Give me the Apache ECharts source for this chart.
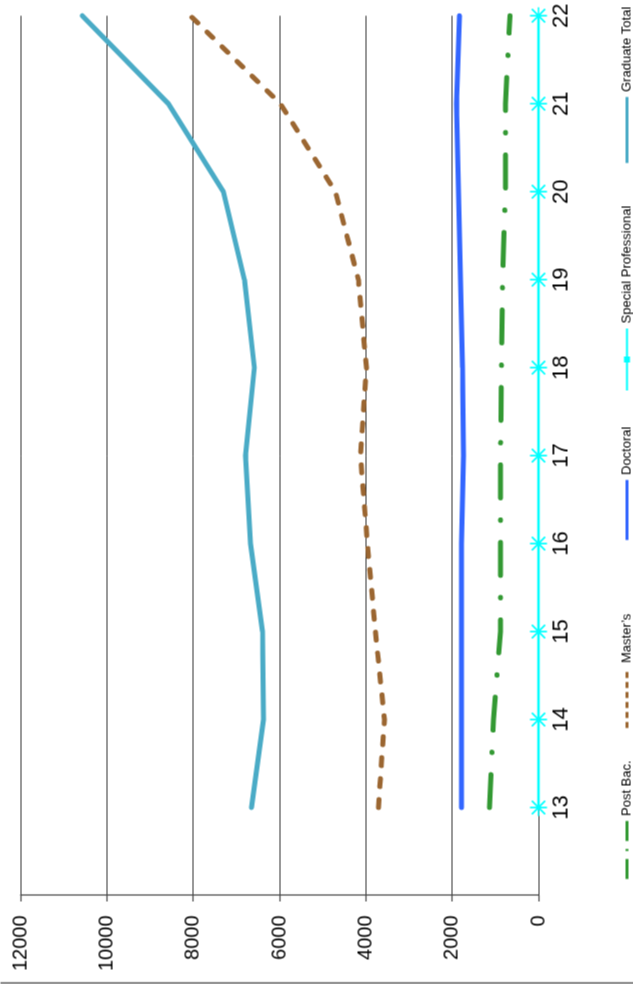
<!DOCTYPE html>
<html>
<head>
<meta charset="utf-8">
<script src="https://cdn.jsdelivr.net/npm/echarts@6.0.0/dist/echarts.min.js"></script>
<style>
html, body { margin: 0; padding: 0; background: #ffffff; overflow: hidden; width: 633px; height: 984px; }
#chart { position: absolute; width: 984px; height: 633px; left: -175.5px; top: 175.5px; transform: rotate(-90deg); transform-origin: 50% 50%; background: #ffffff; }
</style>
</head>
<body>
<div id="chart"></div>
<script>
const categories = [13, 14, 15, 16, 17, 18, 19, 20, 21, 22];
const postBac = [1136, 1043, 881, 881, 881, 857, 834, 765, 765, 660];
const masters = [3708, 3569, 3778, 3963, 4125, 3986, 4172, 4705, 5979, 8065];
const doctoral = [1784, 1784, 1784, 1784, 1738, 1761, 1808, 1854, 1900, 1831];
const specialProfessional = [0, 0, 0, 0, 0, 0, 0, 0, 0, 0];
const graduateTotal = [6651, 6373, 6396, 6674, 6790, 6582, 6813, 7300, 8575, 10568];
const valueTicks = [0, 2000, 4000, 6000, 8000, 10000, 12000];

const pair = arr => categories.map((c, i) => [c, arr[i]]);
const FONT = '"Liberation Sans", Arial, sans-serif';
const asterisk = 'path://M9,0 L11,0 L11,20 L9,20 Z M0,9 L20,9 L20,11 L0,11 Z M1.4,2.8 L2.8,1.4 L18.6,17.2 L17.2,18.6 Z M17.2,1.4 L18.6,2.8 L2.8,18.6 L1.4,17.2 Z';
const spIcon = 'path://M0,3.5 L62,3.5 L62,5.5 L0,5.5 Z M28,1.5 L34,1.5 L34,7.5 L28,7.5 Z';

const chart = echarts.init(document.getElementById('chart'), null, { renderer: 'canvas', width: 984, height: 633 });

function legendFor(name, left, width, lineType) {
  return {
    data: [name],
    left: left,
    top: 620,
    orient: 'horizontal',
    itemWidth: width,
    itemHeight: 8,
    padding: 0,
    selectedMode: false,
    itemStyle: { opacity: 0 },
    lineStyle: { width: 3, type: lineType || 'solid', cap: 'butt' },
    textStyle: { fontFamily: FONT, fontSize: 13, color: '#000' }
  };
}

const spLegend = {
  data: [{ name: 'Special Professional', icon: spIcon }],
  left: 594,
  top: 620,
  orient: 'horizontal',
  itemWidth: 62,
  itemHeight: 9,
  padding: 0,
  selectedMode: false,
  lineStyle: { width: 0, opacity: 0 },
  itemStyle: { color: '#00ffff', opacity: 1 },
  textStyle: { fontFamily: FONT, fontSize: 13, color: '#000' }
};

chart.setOption({
  animation: false,
  backgroundColor: '#ffffff',
  grid: { left: 89, right: 6, top: 20, bottom: 95, containLabel: false },
  xAxis: {
    type: 'value',
    min: 12,
    max: 22,
    interval: 1,
    axisLine: { show: false },
    axisTick: { show: false },
    splitLine: { show: false },
    axisLabel: {
      show: true,
      margin: 12,
      fontFamily: FONT,
      fontSize: 22,
      color: '#000',
      showMinLabel: true,
      showMaxLabel: true,
      hideOverlap: false,
      formatter: v => (categories.indexOf(v) >= 0 ? String(v) : '')
    }
  },
  yAxis: {
    type: 'value',
    min: 0,
    max: 12000,
    interval: 2000,
    axisLine: { show: true, lineStyle: { color: '#444', width: 1.2 } },
    axisTick: { show: true, length: 6, lineStyle: { color: '#444', width: 1.2 } },
    splitLine: { show: true, lineStyle: { color: '#333', width: 1 } },
    axisLabel: { margin: 20, fontFamily: FONT, fontSize: 20, color: '#000', formatter: v => String(v) }
  },
  legend: [
    legendFor('Post Bac.', 104, 58, [20, 8, 2, 8]),
    legendFor('Master\u2019s', 255, 60, [6, 4]),
    legendFor('Doctoral', 443, 60),
    spLegend,
    legendFor('Graduate Total', 820, 66)
  ],
  graphic: [{
    type: 'line',
    shape: { x1: 1.5, y1: 0, x2: 1.5, y2: 633 },
    style: { stroke: '#555', lineWidth: 1.5 },
    silent: true
  }],
  series: [
    {
      name: 'Post Bac.', type: 'line', data: pair(postBac), symbol: 'none', z: 3,
      itemStyle: { color: '#339933' },
      lineStyle: { color: '#339933', width: 5, type: [33, 22, 0.5, 22], cap: 'round' }
    },
    {
      name: 'Master\u2019s', type: 'line', data: pair(masters), symbol: 'none', z: 3,
      itemStyle: { color: '#9b6631' },
      lineStyle: { color: '#9b6631', width: 5, type: [8, 13], cap: 'round' }
    },
    {
      name: 'Doctoral', type: 'line', data: pair(doctoral), symbol: 'none', z: 3,
      itemStyle: { color: '#3366ff' },
      lineStyle: { color: '#3366ff', width: 5, cap: 'round' }
    },
    {
      name: 'Special Professional', type: 'line', data: pair(specialProfessional), z: 4,
      symbol: asterisk, symbolSize: 17, showSymbol: true, clip: false,
      itemStyle: { color: '#00ffff' },
      lineStyle: { color: '#00ffff', width: 2.5 }
    },
    {
      name: 'Graduate Total', type: 'line', data: pair(graduateTotal), symbol: 'none', z: 3,
      itemStyle: { color: '#4aabc6' },
      lineStyle: { color: '#4aabc6', width: 5, cap: 'round' }
    }
  ]
});
</script>
</body>
</html>
